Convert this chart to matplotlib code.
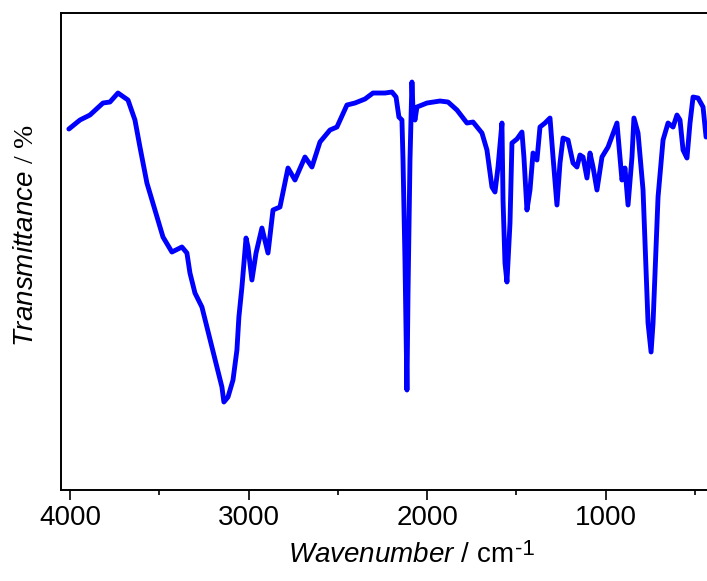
"""FTIR spectrum, transmittance against wavenumber."""

import matplotlib

matplotlib.use("Agg")
import matplotlib.pyplot as plt
from matplotlib.ticker import MultipleLocator, NullLocator

# wavenumber (cm-1)
wavenumber = [
    4006, 3944, 3888, 3815, 3776, 3731, 3675, 3636, 3608, 3569,
    3524, 3479, 3429, 3373, 3345, 3328, 3300, 3261, 3233, 3205,
    3177, 3149, 3138, 3115, 3087, 3065, 3054, 3037, 3014, 3003,
    2981, 2958, 2925, 2891, 2863, 2824, 2779, 2740, 2684, 2645,
    2600, 2544, 2505, 2449, 2404, 2348, 2303, 2236, 2197, 2174,
    2158, 2141, 2135, 2124, 2113, 2107, 2096, 2085, 2079, 2068,
    2057, 2001, 1928, 1883, 1833, 1777, 1743, 1693, 1665, 1637,
    1620, 1603, 1581, 1575, 1564, 1553, 1536, 1525, 1497, 1469,
    1458, 1441, 1424, 1407, 1385, 1368, 1340, 1312, 1295, 1273,
    1256, 1239, 1211, 1183, 1161, 1144, 1127, 1105, 1088, 1071,
    1049, 1021, 987, 937, 920, 909, 892, 875, 853, 842,
    819, 791, 763, 746, 735, 707, 679, 651, 623, 601,
    584, 567, 545, 528, 511, 483, 455, 438,
]

# transmittance (arbitrary %) at those wavenumbers
transmittance = [
    72.2, 74.0, 75.0, 77.4, 77.6, 79.4, 78.0, 74.0, 68.6, 61.4,
    56.0, 50.6, 47.6, 48.6, 47.4, 43.4, 39.4, 36.6, 32.6, 28.6,
    24.6, 20.6, 17.6, 18.6, 22.0, 28.0, 34.6, 40.6, 50.4, 48.6,
    42.0, 47.4, 52.4, 47.4, 56.0, 56.6, 64.4, 62.0, 66.6, 64.6,
    69.6, 72.0, 72.6, 77.0, 77.4, 78.2, 79.4, 79.4, 79.6, 78.6,
    74.6, 74.0, 66.0, 46.0, 20.0, 39.4, 66.0, 81.6, 76.0, 74.0,
    76.6, 77.4, 77.8, 77.6, 76.0, 73.4, 73.6, 71.4, 68.0, 60.6,
    59.6, 64.6, 73.4, 58.0, 45.4, 41.6, 53.4, 69.4, 70.2, 71.6,
    66.6, 56.0, 60.0, 67.4, 66.0, 72.6, 73.4, 74.4, 66.6, 57.0,
    65.4, 70.4, 70.0, 65.4, 64.6, 67.0, 66.6, 62.4, 67.4, 64.6,
    60.0, 66.6, 68.6, 73.4, 66.6, 62.0, 64.4, 57.0, 66.6, 74.4,
    71.4, 60.0, 33.4, 27.6, 33.4, 58.6, 70.0, 73.4, 72.6, 75.0,
    74.0, 68.0, 66.4, 73.4, 78.6, 78.4, 76.6, 70.6,
]

plt.rcParams["font.family"] = ["Liberation Sans", "DejaVu Sans"]
plt.rcParams["mathtext.fontset"] = "custom"
plt.rcParams["mathtext.it"] = "Liberation Sans:italic"
plt.rcParams["mathtext.rm"] = "Liberation Serif"
plt.rcParams["mathtext.sf"] = "Liberation Sans"

fig = plt.figure(figsize=(7.07, 5.81), dpi=100)
# right spine sits just past the right edge of the image, as in the source
ax = fig.add_axes([0.0863, 0.1566, 0.922, 0.821])

ax.plot(wavenumber, transmittance, color="#0000ff", linewidth=3.5,
        solid_joinstyle="round", solid_capstyle="round")

ax.set_xlim(4050, 400)
ax.set_ylim(0, 95.4)
ax.xaxis.set_major_locator(MultipleLocator(1000))
ax.xaxis.set_minor_locator(MultipleLocator(500))
ax.yaxis.set_major_locator(NullLocator())
ax.tick_params(axis="x", which="major", direction="out", length=7,
               width=1.2, labelsize=20, pad=4)
ax.tick_params(axis="x", which="minor", direction="out", length=3.6,
               width=1.2)
for spine in ax.spines.values():
    spine.set_linewidth(1.4)

xlab = fig.text(0.566, 0.022, r"$\mathit{Wavenumber}$ / cm",
                fontsize=20, ha="center", va="bottom")
fig.canvas.draw()
box = xlab.get_window_extent()
fig.text((box.x1 + 2) / fig.bbox.width, 0.045, "-1", fontsize=16,
         ha="left", va="baseline")

fig.text(0.037, 0.595, r"$\mathit{Transmittance\ /}\ \mathrm{\%}$",
         fontsize=20, rotation=90, ha="center", va="center")

fig.savefig("out.png", dpi=100)
